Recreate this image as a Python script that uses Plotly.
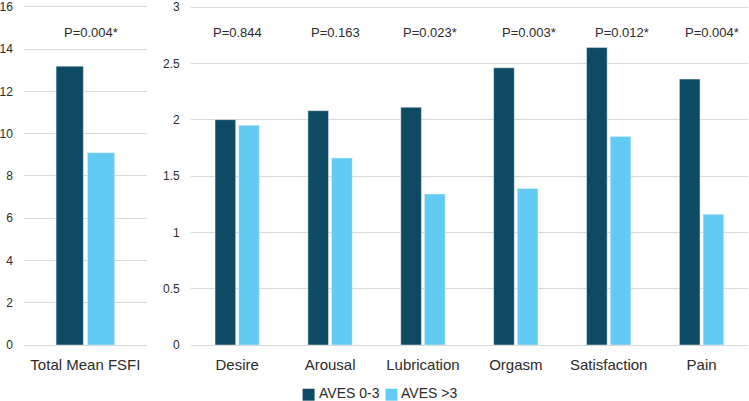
import plotly.graph_objects as go

# ---- data ----
total_category = ["Total Mean FSFI"]
total_aves_low = [13.2]
total_aves_high = [9.1]

domains = ["Desire", "Arousal", "Lubrication", "Orgasm", "Satisfaction", "Pain"]
aves_low = [2.00, 2.08, 2.11, 2.46, 2.64, 2.36]
aves_high = [1.95, 1.66, 1.34, 1.39, 1.85, 1.16]

total_p = ["P=0.004*"]
domain_p = ["P=0.844", "P=0.163", "P=0.023*", "P=0.003*", "P=0.012*", "P=0.004*"]

series_names = ["AVES 0-3", "AVES >3"]

# ---- style ----
DARK = "#0F4A64"
LIGHT = "#62CBF3"
GRID = "#D9D9D9"
TXT = "#2B2B2B"
FONT = "Liberation Sans, Arial, sans-serif"
W, H = 749, 401
TOP, BOT = 3, 56
PLOT_H = H - TOP - BOT  # 342
total_p_shift = [6]
domain_p_shift = [0, 5, 7, 13, 13, 10]

fig = go.Figure()
fig.add_trace(go.Bar(x=total_category, y=total_aves_low, marker_color=DARK,
                     name=series_names[0], xaxis="x", yaxis="y", showlegend=False))
fig.add_trace(go.Bar(x=total_category, y=total_aves_high, marker_color=LIGHT,
                     name=series_names[1], xaxis="x", yaxis="y", showlegend=False))
fig.add_trace(go.Bar(x=domains, y=aves_low, marker_color=DARK,
                     name=series_names[0], xaxis="x2", yaxis="y2", showlegend=False))
fig.add_trace(go.Bar(x=domains, y=aves_high, marker_color=LIGHT,
                     name=series_names[1], xaxis="x2", yaxis="y2", showlegend=False))

x1_dom = [23 / W, 146 / W]
x2_dom = [190 / W, 748 / W]

axis_common = dict(showgrid=True, gridcolor=GRID, gridwidth=1, zeroline=True,
                   zerolinecolor=GRID, zerolinewidth=1, showline=False, ticks="",
                   tickfont=dict(size=12, color=TXT, family=FONT), ticklabelstandoff=10,
                   ticklabeloverflow="allow")
xaxis_common = dict(showgrid=False, showline=False, ticks="", ticklabelstandoff=9,
                    tickfont=dict(size=15, color=TXT, family=FONT))

fig.update_layout(
    width=W, height=H,
    margin=dict(l=0, r=0, t=TOP, b=BOT),
    paper_bgcolor="white", plot_bgcolor="white",
    barmode="group", bargap=0.49, bargroupgap=0.13,
    font=dict(family=FONT, color=TXT),
    showlegend=False,
    xaxis=dict(domain=x1_dom, anchor="y", **xaxis_common),
    yaxis=dict(anchor="x", range=[0, PLOT_H / 21.25], tickvals=list(range(0, 17, 2)), **axis_common),
    xaxis2=dict(domain=x2_dom, anchor="y2", **xaxis_common),
    yaxis2=dict(anchor="x2", range=[0, PLOT_H / 113.33], tickvals=[0, 0.5, 1, 1.5, 2, 2.5, 3],
                ticktext=["0", "0.5", "1", "1.5", "2", "2.5", "3"], **axis_common),
)

def py(pix):
    return (H - BOT - pix) / PLOT_H

annotations = []
for cat, txt, sh in zip(total_category, total_p, total_p_shift):
    annotations.append(dict(x=cat, xref="x", y=py(31), yref="paper", text=txt, showarrow=False,
                            xshift=sh, yanchor="middle",
                            font=dict(size=13, color=TXT, family=FONT)))
for cat, txt, sh in zip(domains, domain_p, domain_p_shift):
    annotations.append(dict(x=cat, xref="x2", y=py(31), yref="paper", text=txt, showarrow=False,
                            xshift=sh, yanchor="middle",
                            font=dict(size=13, color=TXT, family=FONT)))

# custom legend (squares + text)
sq_h = 12 / PLOT_H
shapes = []
leg_items = [(302, 316, series_names[0], DARK), (385, 399, series_names[1], LIGHT)]
for sx, tx, name, col in leg_items:
    shapes.append(dict(type="rect", xref="paper", yref="paper",
                       x0=sx / W, x1=(sx + 12) / W, y0=py(395) - sq_h / 2, y1=py(395) + sq_h / 2,
                       fillcolor=col, line=dict(width=0)))
    annotations.append(dict(x=tx / W, xref="paper", y=py(393), yref="paper", text=name,
                            showarrow=False, xanchor="left", yanchor="middle",
                            font=dict(size=14, color=TXT, family=FONT)))

fig.update_layout(annotations=annotations, shapes=shapes)
fig.write_html("out.html")
